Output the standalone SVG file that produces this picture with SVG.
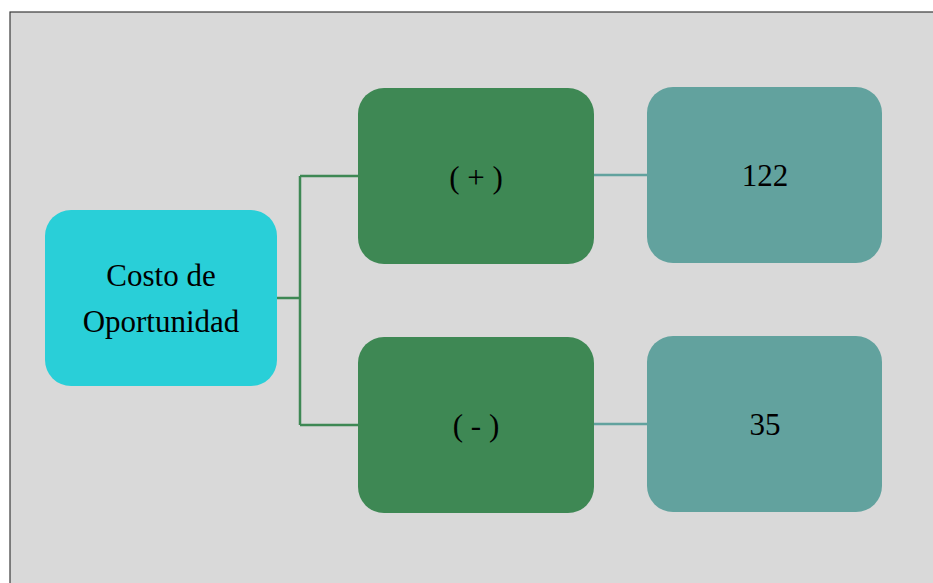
<svg xmlns="http://www.w3.org/2000/svg" width="933" height="583" viewBox="0 0 933 583">
<style>
.t{font-family:"Liberation Serif","Times New Roman",serif;font-size:31px;fill:#000;text-anchor:middle;dominant-baseline:central}
.root{fill:#29cfd8}
.mid{fill:#3e8854}
.leaf{fill:#62a29e}
.c1{stroke:#3e8854;stroke-width:2.5;fill:none}
.c2{stroke:#62a29e;stroke-width:2.5;fill:none}
</style>
<rect x="10" y="12" width="940" height="590" fill="#d9d9d9" stroke="#3a3a3a" stroke-width="1.2"/>
<g id="connectors">
<path class="c1" d="M277 298H300M300 176V425M300 176H358M300 425H358"/>
<path class="c2" d="M594 175H647M594 424H647"/>
</g>
<g id="node-costo">
<rect class="root" x="45" y="210" width="232" height="176" rx="26"/>
<text class="t" x="161" y="275">Costo de</text>
<text class="t" x="161" y="321">Oportunidad</text>
</g>
<g id="node-plus">
<rect class="mid" x="358" y="88" width="236" height="176" rx="26"/>
<text class="t" x="476" y="177">( + )</text>
</g>
<g id="node-minus">
<rect class="mid" x="358" y="337" width="236" height="176" rx="26"/>
<text class="t" x="476" y="425">( - )</text>
</g>
<g id="node-122">
<rect class="leaf" x="647" y="87" width="235" height="176" rx="26"/>
<text class="t" x="765" y="175">122</text>
</g>
<g id="node-35">
<rect class="leaf" x="647" y="336" width="235" height="176" rx="26"/>
<text class="t" x="765" y="424">35</text>
</g>
</svg>
